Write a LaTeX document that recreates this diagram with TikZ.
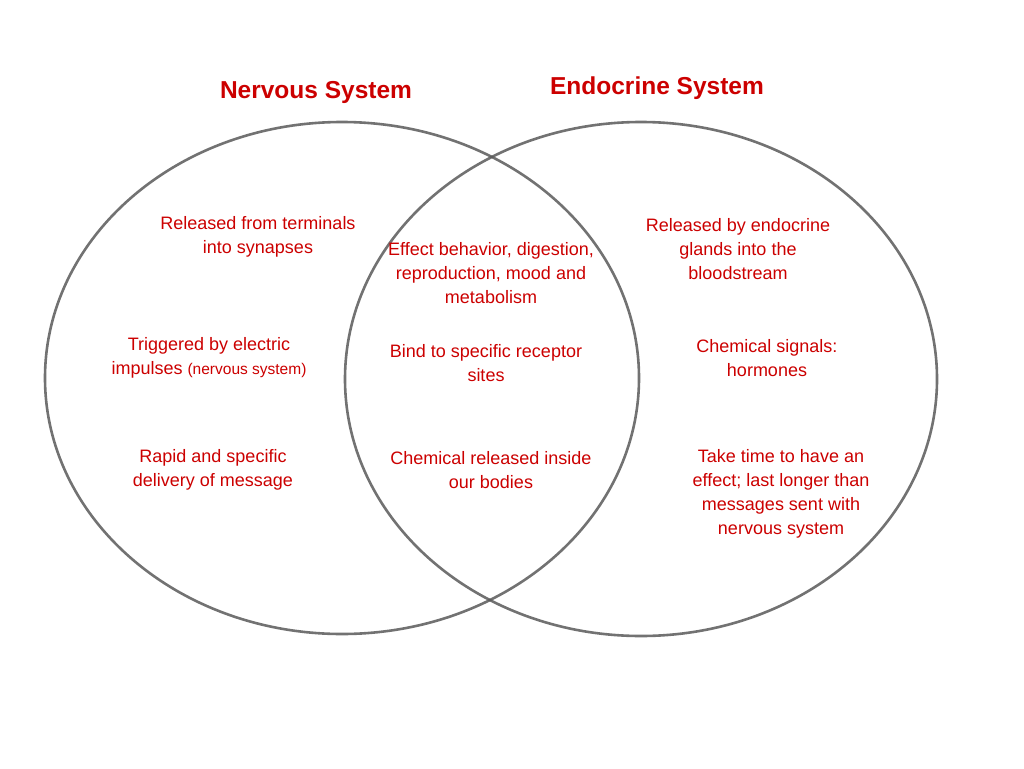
\documentclass[tikz,border=0pt]{standalone}
\usepackage{fontspec}
\setmainfont{Liberation Sans}
\definecolor{txt}{RGB}{204,0,0}
\definecolor{ring}{RGB}{90,90,90}
\begin{document}
\begin{tikzpicture}[x=1pt,y=-1pt,
  ring/.style={draw=ring,line width=2.6pt,opacity=0.85},
  lbl/.style={text=txt,font=\fontsize{18}{24}\selectfont,align=center,inner sep=0pt},
  ttl/.style={text=txt,font=\fontsize{24.5}{30}\selectfont\bfseries,inner sep=0pt}]
\useasboundingbox[fill=white] (0,0) rectangle (1024,768);
\draw[ring] (342,378) ellipse [x radius=297,y radius=256];
\draw[ring] (641,379) ellipse [x radius=296,y radius=257];
\node[ttl] (t1) at (316,92) {Nervous System};
\node[ttl] (t2) at (657,88) {Endocrine System};
\node[lbl] (a1) at (258,237) {Released from terminals\\into synapses};
\node[lbl] (a2) at (209,358) {Triggered by electric\\impulses {\fontsize{15.5}{24}\selectfont(nervous system)}};
\node[lbl] (a3) at (213,470) {Rapid and specific\\delivery of message};
\node[lbl] (b1) at (491,273) {Effect behavior, digestion,\\reproduction, mood and\\metabolism};
\node[lbl] (b2) at (486,363) {Bind to specific receptor\\sites};
\node[lbl] (b3) at (491,470) {Chemical released inside\\our bodies};
\node[lbl] (c1) at (738,249) {Released by endocrine\\glands into the\\bloodstream};
\node[lbl] (c2) at (767,358) {Chemical signals:\\hormones};
\node[lbl] (c3) at (781,494) {Take time to have an\\effect; last longer than\\messages sent with\\nervous system};
\end{tikzpicture}
\end{document}
